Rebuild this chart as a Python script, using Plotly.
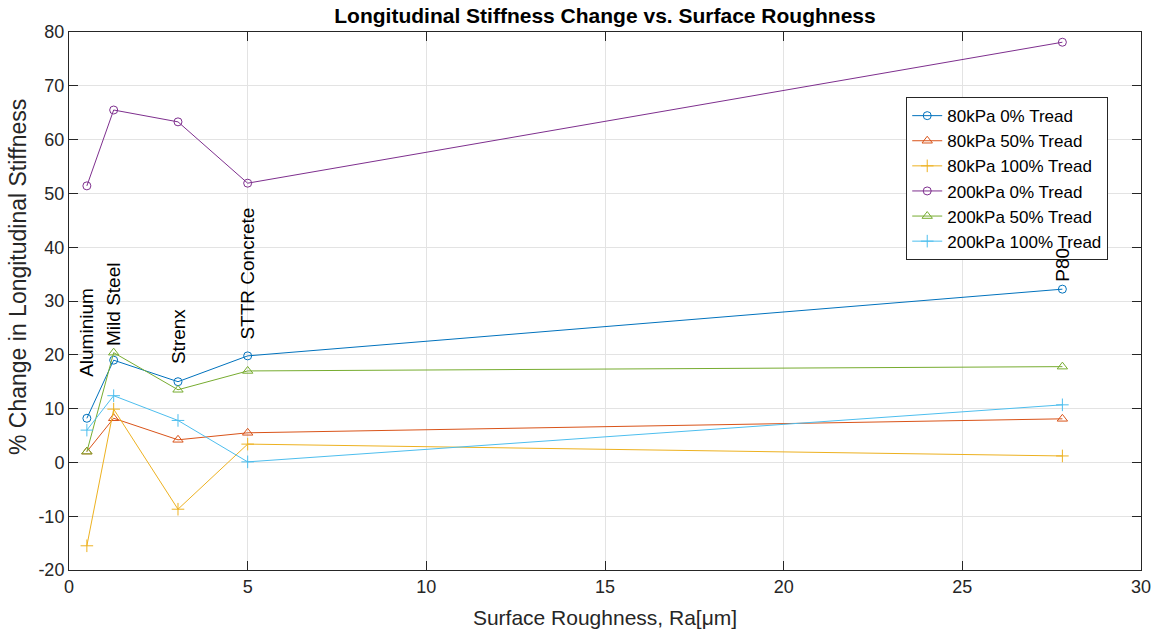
import plotly.graph_objects as go

ra = [0.5, 1.25, 3.05, 5.0, 27.8]
surfaces = ["Aluminium", "Mild Steel", "Strenx", "STTR Concrete", "P80"]
label_y = [15.6, 21.3, 18.0, 22.4, 33.3]

s80_0 = [8.2, 19.0, 15.0, 19.8, 32.2]
s80_50 = [2.0, 8.2, 4.2, 5.5, 8.1]
s80_100 = [-15.5, 9.9, -8.7, 3.4, 1.2]
s200_0 = [51.4, 65.5, 63.3, 51.9, 78.1]
s200_50 = [2.0, 20.4, 13.5, 17.0, 17.8]
s200_100 = [6.0, 12.4, 7.8, 0.1, 10.7]

y_ticks = [-20, -10, 0, 10, 20, 30, 40, 50, 60, 70, 80]
y_ticklabels = ["-20", "-10", "0", "10", "20", "30", "40", "50", "60", "70", "80"]

series = [
    ("80kPa 0% Tread", s80_0, "#0072BD", "circle-open", 8),
    ("80kPa 50% Tread", s80_50, "#D95319", "triangle-up-open", 9),
    ("80kPa 100% Tread", s80_100, "#EDB120", "cross-thin-open", 9),
    ("200kPa 0% Tread", s200_0, "#7E2F8E", "circle-open", 8),
    ("200kPa 50% Tread", s200_50, "#77AC30", "triangle-up-open", 9),
    ("200kPa 100% Tread", s200_100, "#4DBEEE", "cross-thin-open", 9),
]

FONT = "Liberation Sans, Arial, sans-serif"
fig = go.Figure()
for name, vals, col, sym, sz in series:
    fig.add_trace(go.Scatter(
        x=ra, y=vals, name=name, mode="lines+markers",
        line=dict(color=col, width=1),
        marker=dict(symbol=sym, size=sz, color=col, line=dict(color=col, width=1)),
    ))

for xv, yv, t in zip(ra, label_y, surfaces):
    fig.add_annotation(x=xv, y=yv, text=t, textangle=-90, showarrow=False,
                       xanchor="center", yanchor="bottom",
                       font=dict(family=FONT, size=19, color="black"))

# y-axis label (placed as in the reference, slightly above plot centre)
fig.add_annotation(x=(18 - 69) / 1072, y=(570 - 277) / 538, xref="paper", yref="paper",
                   text="% Change in Longitudinal Stiffness", textangle=-90,
                   showarrow=False, xanchor="center", yanchor="middle",
                   font=dict(family=FONT, size=23, color="#262626"))

axis_common = dict(
    showline=True, linecolor="#262626", linewidth=1, mirror="ticks",
    ticks="inside", ticklen=9, tickcolor="#262626", tickwidth=1,
    showgrid=True, gridcolor="#e3e3e3", gridwidth=1, zeroline=False,
    tickfont=dict(family=FONT, size=18, color="#262626"), automargin=False,
)
fig.update_xaxes(range=[0, 30], dtick=5, **axis_common,
                 title=dict(text="Surface Roughness, Ra[μm]", standoff=14,
                            font=dict(family=FONT, size=21, color="#262626")))
fig.update_yaxes(range=[-20, 80], tickvals=y_ticks, ticktext=y_ticklabels, **axis_common)

fig.update_layout(
    width=1159, height=632,
    margin=dict(l=69, r=18, t=32, b=62),
    paper_bgcolor="white", plot_bgcolor="white",
    font=dict(family=FONT),
    title=dict(text="<b>Longitudinal Stiffness Change vs. Surface Roughness</b>",
               x=0.5, xref="paper", xanchor="center",
               y=1 - 16 / 632, yref="container", yanchor="middle",
               font=dict(family=FONT, size=21, color="black")),
    legend=dict(x=0.781, y=0.879, xanchor="left", yanchor="top",
                bgcolor="white", bordercolor="#262626", borderwidth=1,
                font=dict(family=FONT, size=17, color="black"),
                tracegroupgap=0, itemwidth=30),
    showlegend=True,
)

fig.write_html("out.html")
